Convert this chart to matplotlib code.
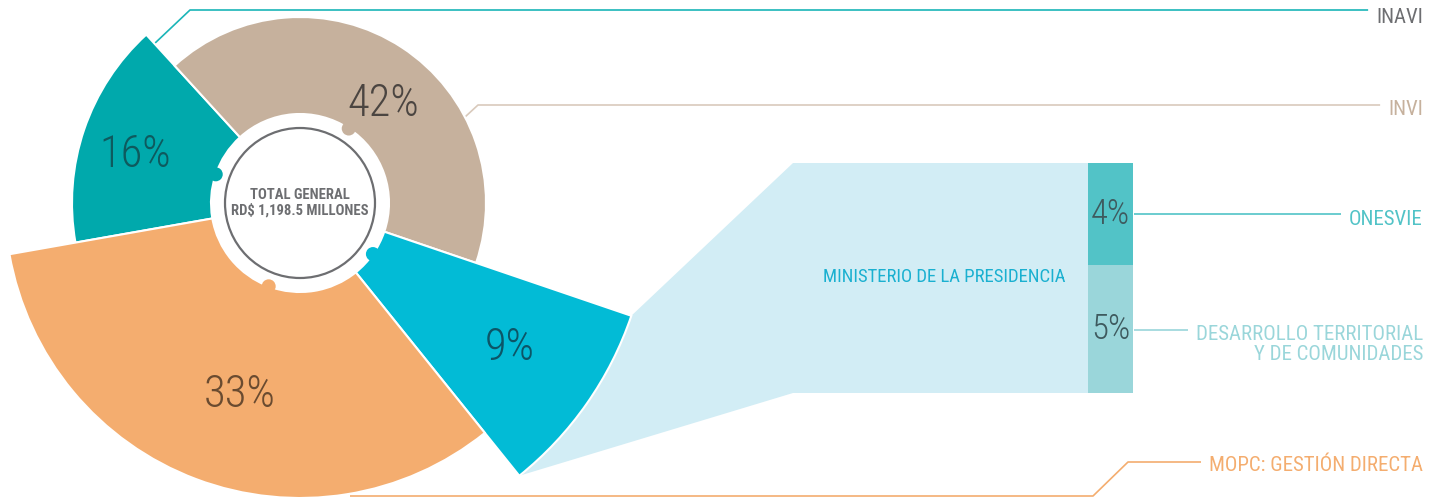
import matplotlib
matplotlib.use("Agg")
import matplotlib.pyplot as plt
from matplotlib import font_manager
from matplotlib.patches import Wedge, Circle, Polygon
import numpy as np

# data
segments = ["INAVI", "INVI", "MINISTERIO DE LA PRESIDENCIA", "MOPC: GESTIÓN DIRECTA"]
shares = [16, 42, 9, 33]
pct_labels = ["16%", "42%", "9%", "33%"]
sub_segments = ["ONESVIE", "DESARROLLO TERRITORIAL\nY DE COMUNIDADES"]
sub_shares = [4, 5]
sub_labels = ["4%", "5%"]
total_text = "TOTAL GENERAL\nRD$ 1,198.5 MILLONES"

# styling
colors = ["#00A9AC", "#C6B19D", "#02BBD6", "#F4AD6F"]
pct_colors = ["#0E5A5E", "#4B4541", "#0C5567", "#6A4B30"]
outer_r = [228, 186, 350, 295]
label_r = [172, 130, 255, 201]
label_da = [2.6, -6.8, 0.4, 3.2]
sub_colors = ["#52C3C7", "#9AD6DA"]
fan_color = "#D2EDF5"
gray = "#6D6E71"

W, H = 1437, 501
cx, cy = 300, H - 203
inner_r = 89
start = 190.0

names = {f.name for f in font_manager.fontManager.ttflist}
cond = next((n for n in ["Roboto Condensed", "Liberation Sans Narrow", "DejaVu Sans"] if n in names), "DejaVu Sans")

fig = plt.figure(figsize=(W / 100, H / 100), dpi=100)
ax = fig.add_axes([0, 0, 1, 1])
ax.set_xlim(0, W)
ax.set_ylim(0, H)
ax.set_aspect("equal")
ax.axis("off")

# wedges, clockwise from start angle
angles = []
cum = 0
for i, s in enumerate(shares):
    t2 = start - cum * 3.6
    t1 = t2 - s * 3.6
    cum += s
    angles.append((t1, t2))
    ax.add_patch(Wedge((cx, cy), outer_r[i], t1, t2, width=outer_r[i] - inner_r,
                       facecolor=colors[i], edgecolor="white", lw=1.5, zorder=3))
    mid = np.radians((t1 + t2) / 2)
    ax.add_patch(Circle((cx + inner_r * np.cos(mid), cy + inner_r * np.sin(mid)), 7,
                        facecolor=colors[i], edgecolor="none", zorder=3))
    la = mid + np.radians(label_da[i])
    ax.text(cx + label_r[i] * np.cos(la), cy + label_r[i] * np.sin(la), pct_labels[i],
            ha="center", va="center", fontsize=32, family=cond, fontweight="light",
            fontstretch="condensed", color=pct_colors[i], zorder=5)

# centre circle
ax.add_patch(Circle((cx, cy), 75, facecolor="white", edgecolor=gray, lw=1.6, zorder=4))
ax.text(cx, cy, total_text, ha="center", va="center", fontsize=10.5, family=cond,
        fontweight="bold", fontstretch="condensed", color=gray, linespacing=1.05, zorder=5)

# exploded bar for the 9% segment
bar_x0, bar_w = 1088, 45
bar_top = H - 163
scale = 230 / sum(sub_shares)
bottoms = [bar_top - sub_shares[0] * scale, bar_top - sum(sub_shares) * scale]
bar_bottom = bottoms[1]
fan_x = 793

t1, t2 = angles[2]
arc = np.radians(np.linspace(t1, t2, 40))
ax_pts = cx + outer_r[2] * np.cos(arc)
ay_pts = cy + outer_r[2] * np.sin(arc)
poly = list(zip(ax_pts, ay_pts)) + [(fan_x, bar_top), (bar_x0, bar_top),
                                     (bar_x0, bar_bottom), (fan_x, bar_bottom)]
ax.add_patch(Polygon(poly, closed=True, facecolor=fan_color, edgecolor="none", zorder=1))

ax.bar(bar_x0 + bar_w / 2, [sub_shares[0] * scale, sub_shares[1] * scale], width=bar_w,
       bottom=bottoms, color=sub_colors, zorder=2)
for lbl, b, s in zip(sub_labels, bottoms, sub_shares):
    ax.text(bar_x0 + bar_w / 2, b + s * scale / 2, lbl, ha="center", va="center",
            fontsize=25, family=cond, fontweight="light", fontstretch="condensed",
            color="#3E5A5E", zorder=5)

ax.text(944, H - 277, segments[2], ha="center", va="center", fontsize=13.5, family=cond,
        fontstretch="condensed", color="#1AB0D0", zorder=5)

# leader lines and right-hand labels
right = 1423
leaders = [
    ([153, 190, 1382], [45, 10, 10], "#1AB5B8", segments[0], gray, 8),
    ([465, 478, 1391], [117, 105, 105], "#D9CABC", segments[1], "#C6B19D", 100),
    ([1134, 1358], [214, 214], "#52C3C7", sub_segments[0], "#52C3C7", 210),
    ([1134, 1235], [330, 330], "#9AD6DA", sub_segments[1], "#9AD6DA", 325),
    ([350, 1093, 1128, 1247], [496, 496, 462, 462], "#F4AD6F", segments[3], "#F4AD6F", 456),
]
renderer = fig.canvas.get_renderer()
inv = ax.transData.inverted()
for xs, ys, lc, txt, tc, ty in leaders:
    t = ax.text(right, H - ty, txt, ha="right", va="top", fontsize=15, family=cond,
                fontstretch="condensed", color=tc, linespacing=1.1, zorder=5)
    # end the leader a little before the label's first line
    first = ax.text(right, H - ty, txt.split("\n")[0], fontsize=15, family=cond,
                    ha="right", va="top", fontstretch="condensed", alpha=0)
    x_left = inv.transform(first.get_window_extent(renderer))[0][0]
    first.remove()
    xs = list(xs)
    xs[-1] = min(xs[-1], x_left - 8)
    ax.plot(xs, [H - y for y in ys], color=lc, lw=1.2, zorder=2, solid_capstyle="butt")

fig.savefig("out.png", dpi=100)
